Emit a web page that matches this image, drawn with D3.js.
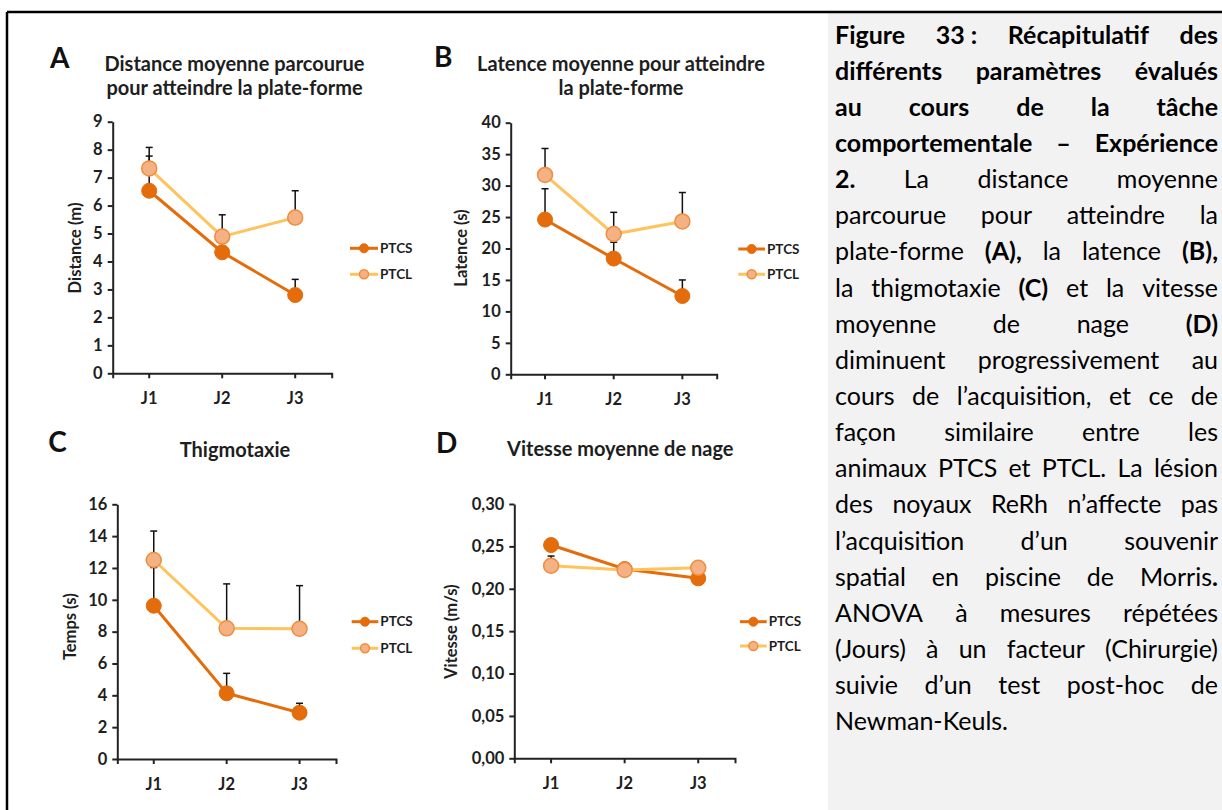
<!DOCTYPE html>
<html><head><meta charset="utf-8">
<script src="https://cdn.jsdelivr.net/npm/d3@7"></script>
<style>
html,body{margin:0;padding:0;background:#fff;}
svg{display:block;}
text{font-family:Lato,"Open Sans",sans-serif;}
</style></head>
<body><svg id="chart" width="1222" height="810"></svg>
<script>
// ---------- DATA ----------
const days = ["J1", "J2", "J3"];
const groups = ["PTCS", "PTCL"];

const distPTCS = [6.53, 4.33, 2.80];
const distPTCSsem = [1.24, 0.42, 0.56];
const distPTCL = [7.33, 4.89, 5.57];
const distPTCLsem = [0.75, 0.78, 0.96];

const latPTCS = [24.6, 18.4, 12.45];
const latPTCSsem = [4.9, 2.6, 2.55];
const latPTCL = [31.7, 22.3, 24.3];
const latPTCLsem = [4.2, 3.45, 4.6];

const thigPTCS = [9.63, 4.13, 2.91];
const thigPTCSsem = [2.4, 1.25, 0.59];
const thigPTCL = [12.5, 8.21, 8.18];
const thigPTCLsem = [1.82, 2.79, 2.71];

const vitPTCS = [0.2516, 0.2233, 0.2123];
const vitPTCSsem = [0.005, 0.004, 0.004];
const vitPTCL = [0.2272, 0.2221, 0.2248];
const vitPTCLsem = [0.0114, 0.004, 0.004];

const ticksA = [0, 1, 2, 3, 4, 5, 6, 7, 8, 9];
const ticksB = [0, 5, 10, 15, 20, 25, 30, 35, 40];
const ticksC = [0, 2, 4, 6, 8, 10, 12, 14, 16];
const ticksD = [0, 0.05, 0.10, 0.15, 0.20, 0.25, 0.30];

const panelLetters = ["A", "B", "C", "D"];
const panelTitles = [
  ["Distance moyenne parcourue", "pour atteindre la plate-forme"],
  ["Latence moyenne pour atteindre", "la plate-forme"],
  ["Thigmotaxie"],
  ["Vitesse moyenne de nage"]
];
const axisTitles = ["Distance (m)", "Latence (s)", "Temps (s)", "Vitesse (m/s)"];

const captionLines = [
  "*Figure 33\u00A0: Récapitulatif des*",
  "*différents paramètres évalués*",
  "*au cours de la tâche*",
  "*comportementale – Expérience*",
  "*2.* La distance moyenne",
  "parcourue pour atteindre la",
  "plate-forme *(A),* la latence *(B),*",
  "la thigmotaxie *(C)* et la vitesse",
  "moyenne de nage *(D)*",
  "diminuent progressivement au",
  "cours de l’acquisition, et ce de",
  "façon similaire entre les",
  "animaux PTCS et PTCL. La lésion",
  "des noyaux ReRh n’affecte pas",
  "l’acquisition d’un souvenir",
  "spatial en piscine de Morris*.*",
  "ANOVA à mesures répétées",
  "(Jours) à un facteur (Chirurgie)",
  "suivie d’un test post-hoc de",
  "Newman-Keuls."
];

// ---------- STYLE ----------
const C_PTCS = "#E46C0A";
const C_PTCL_LINE = "#FFC35C";
const C_PTCL_FILL = "#F4B183";
const C_PTCL_STROKE = "#EF8E3E";
const C_TEXT = "#1e1e1e";
const C_AXIS = "#222";

const svg = d3.select("#chart");

// frame + caption box
svg.append("rect").attr("x", 828).attr("y", 13).attr("width", 394).attr("height", 797).attr("fill", "#F2F2F2");
svg.append("path").attr("d", "M7,12H1222M7,12V810").attr("fill", "none").attr("stroke", "#000").attr("stroke-width", 2.5);

const commaFmt = d3.formatLocale({decimal: ",", thousands: " ", grouping: [3], currency: ["", "€"]}).format(".2f");

const panels = [
  {series: [[distPTCS, distPTCSsem], [distPTCL, distPTCLsem]], ticks: ticksA, fmt: d3.format("d"),
   geo: {x0: 112.7, x1: 331.7, yTop: 121.7, yBot: 373.3, lx: 50, ly: 68, tx: 234.5, ty: [70.7, 95],
         ax: 75, ay: 248, legX0: 350, legX1: 378, legY: [248.3, 274.3]}},
  {series: [[latPTCS, latPTCSsem], [latPTCL, latPTCLsem]], ticks: ticksB, fmt: d3.format("d"),
   geo: {x0: 510.7, x1: 716.7, yTop: 122.7, yBot: 374.3, lx: 434, ly: 66.7, tx: 621, ty: [70.7, 95],
         ax: 461.7, ay: 248, legX0: 738.3, legX1: 765, legY: [249, 274.3]}},
  {series: [[thigPTCS, thigPTCSsem], [thigPTCL, thigPTCLsem]], ticks: ticksC, fmt: d3.format("d"),
   geo: {x0: 117.3, x1: 336, yTop: 504.3, yBot: 759, lx: 48.3, ly: 452.3, tx: 235, ty: [456.5],
         ax: 70.7, ay: 626.7, legX0: 351.7, legX1: 378.3, legY: [621.7, 648.3]}},
  {series: [[vitPTCS, vitPTCSsem], [vitPTCL, vitPTCLsem]], ticks: ticksD, fmt: commaFmt,
   geo: {x0: 514.3, x1: 735, yTop: 504, yBot: 758.3, lx: 436, ly: 453.3, tx: 620.3, ty: [456],
         ax: 451.7, ay: 631.7, legX0: 740, legX1: 766.7, legY: [621.7, 646]}}
];

function styleMarker(sel, gi) {
  if (gi === 0) sel.attr("fill", C_PTCS).attr("stroke", C_PTCS).attr("stroke-width", 1);
  else sel.attr("fill", C_PTCL_FILL).attr("stroke", C_PTCL_STROKE).attr("stroke-width", 1.5);
}

panels.forEach((p, pi) => {
  const g = svg.append("g");
  const G = p.geo;
  const x = d3.scaleBand().domain(days).range([G.x0, G.x1]).padding(0);
  const y = d3.scaleLinear().domain([0, d3.max(p.ticks)]).range([G.yBot, G.yTop]);
  const cx = d => x(d) + x.bandwidth() / 2;

  // axes
  const yAx = g.append("g").attr("transform", `translate(${G.x0},0)`)
    .call(d3.axisLeft(y).tickValues(p.ticks).tickFormat(p.fmt).tickSize(5).tickSizeOuter(0).tickPadding(5));
  const xAx = g.append("g").attr("transform", `translate(0,${G.yBot})`)
    .call(d3.axisBottom(x).tickSize(5).tickSizeOuter(5).tickPadding(14));
  [yAx, xAx].forEach(a => {
    a.selectAll("path,line").attr("stroke", C_AXIS).attr("stroke-width", 2);
    a.selectAll("text").attr("fill", C_TEXT).style("font-size", "16.5px").style("font-weight", "700");
  });

  // error bars (upper only)
  p.series.forEach(([vals, sems]) => {
    days.forEach((d, i) => {
      const xx = cx(d), y0 = y(vals[i]), y1 = y(vals[i] + sems[i]);
      g.append("line").attr("x1", xx).attr("x2", xx).attr("y1", y0).attr("y2", y1)
        .attr("stroke", "#111").attr("stroke-width", 1.5);
      g.append("line").attr("x1", xx - 3.5).attr("x2", xx + 3.5).attr("y1", y1).attr("y2", y1)
        .attr("stroke", "#111").attr("stroke-width", 1.5);
    });
  });

  // lines + markers
  p.series.forEach(([vals], gi) => {
    const line = d3.line().x((d, i) => cx(days[i])).y(d => y(d));
    g.append("path").datum(vals).attr("d", line).attr("fill", "none")
      .attr("stroke", gi === 0 ? C_PTCS : C_PTCL_LINE).attr("stroke-width", 3);
    g.selectAll(null).data(vals).enter().append("circle")
      .attr("cx", (d, i) => cx(days[i])).attr("cy", d => y(d)).attr("r", 7.5)
      .call(styleMarker, gi);
  });

  // panel letter
  g.append("text").attr("x", G.lx).attr("y", G.ly).text(panelLetters[pi])
    .attr("fill", "#111").style("font-size", "28px").style("font-weight", "700");
  // title
  panelTitles[pi].forEach((t, k) => {
    g.append("text").attr("x", G.tx).attr("y", G.ty[k]).attr("text-anchor", "middle").text(t)
      .attr("fill", C_TEXT).style("font-size", "20px").style("font-weight", "700");
  });
  // y axis title
  g.append("text").attr("transform", `translate(${G.ax},${G.ay}) rotate(-90)`)
    .attr("text-anchor", "middle").attr("dy", "0.35em").text(axisTitles[pi])
    .attr("fill", C_TEXT).style("font-size", "16.5px").style("font-weight", "700");

  // legend
  groups.forEach((name, gi) => {
    const ly = G.legY[gi];
    g.append("line").attr("x1", G.legX0).attr("x2", G.legX1).attr("y1", ly).attr("y2", ly)
      .attr("stroke", gi === 0 ? C_PTCS : C_PTCL_LINE).attr("stroke-width", 3);
    g.append("circle").attr("cx", (G.legX0 + G.legX1) / 2).attr("cy", ly).attr("r", 4.5).call(styleMarker, gi);
    g.append("text").attr("x", G.legX1 + 2).attr("y", ly).attr("dy", "0.35em").text(name)
      .attr("fill", C_TEXT).style("font-size", "13.5px").style("font-weight", "700");
  });
});

// ---------- CAPTION (justified) ----------
function parseLine(s) {
  let bold = false, words = [], cur = [], buf = "";
  const flushBuf = () => { if (buf) { cur.push({t: buf, b: bold}); buf = ""; } };
  for (const ch of s) {
    if (ch === "*") { flushBuf(); bold = !bold; }
    else if (ch === " ") { flushBuf(); if (cur.length) { words.push(cur); cur = []; } }
    else buf += ch;
  }
  flushBuf(); if (cur.length) words.push(cur);
  return words;
}
const capG = svg.append("g");
const capLeft = 835, capRight = 1218, capW = capRight - capLeft;
const parsed = captionLines.map(parseLine);
function makeWord(word, fs) {
  const t = capG.append("text").attr("fill", "#000").style("font-size", fs + "px");
  word.forEach(s => t.append("tspan").style("font-weight", s.b ? 700 : 400).text(s.t));
  return t;
}
function measure(word, fs) { const t = makeWord(word, fs); const w = t.node().getComputedTextLength(); t.remove(); return w; }
let fs = 21;
let maxNat = 0;
parsed.forEach((words, i) => {
  if (i === parsed.length - 1) return;
  const sum = d3.sum(words, w => measure(w, fs));
  maxNat = Math.max(maxNat, sum + (words.length - 1) * fs * 0.24);
});
fs = Math.min(25, fs * capW / maxNat);
parsed.forEach((words, i) => {
  const yy = 43.5 + i * 36.15;
  const widths = words.map(w => measure(w, fs));
  const sum = d3.sum(widths);
  const last = i === parsed.length - 1;
  const gap = (!last && words.length > 1) ? (capW - sum) / (words.length - 1) : fs * 0.24;
  let xx = capLeft;
  words.forEach((w, k) => {
    makeWord(w, fs).attr("x", xx).attr("y", yy);
    xx += widths[k] + gap;
  });
});
</script>
</body></html>
